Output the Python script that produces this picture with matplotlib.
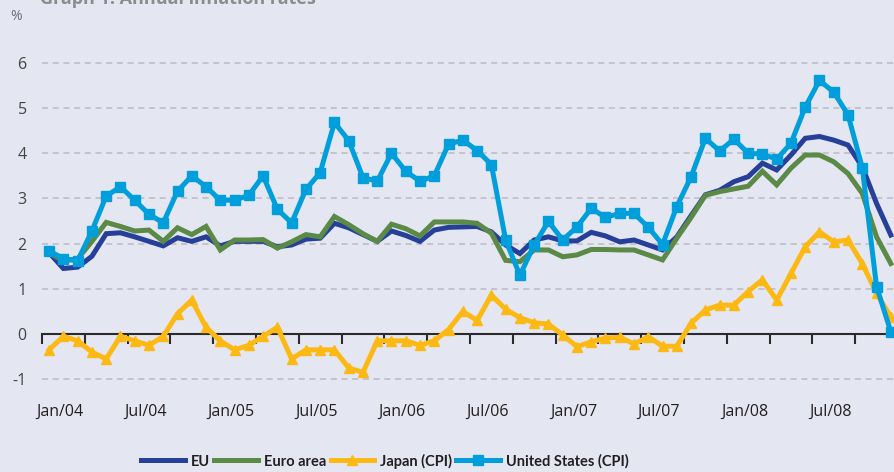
import numpy as np
import matplotlib
matplotlib.use("Agg")
import matplotlib.pyplot as plt
from matplotlib.lines import Line2D

# monthly annual inflation rates, Jan 2004 .. Dec 2008 (%)
eu = [1.80, 1.45, 1.48, 1.72, 2.22, 2.24, 2.15, 2.05, 1.95, 2.13, 2.05, 2.15,
      1.95, 2.05, 2.05, 2.05, 1.93, 1.97, 2.10, 2.12, 2.45, 2.35, 2.20, 2.05,
      2.28, 2.18, 2.05, 2.30, 2.36, 2.37, 2.38, 2.26, 1.97, 1.78, 2.08, 2.15,
      2.06, 2.06, 2.25, 2.17, 2.04, 2.08, 1.97, 1.86, 2.15, 2.62, 3.08, 3.18,
      3.37, 3.48, 3.78, 3.63, 3.96, 4.33, 4.37, 4.29, 4.18, 3.70, 2.89, 2.19]
euro_area = [1.80, 1.62, 1.66, 2.05, 2.47, 2.38, 2.28, 2.30, 2.05, 2.35, 2.20, 2.38,
             1.86, 2.08, 2.08, 2.09, 1.90, 2.04, 2.20, 2.15, 2.60, 2.42, 2.22, 2.05,
             2.43, 2.33, 2.17, 2.48, 2.48, 2.48, 2.45, 2.23, 1.63, 1.60, 1.86, 1.86,
             1.71, 1.75, 1.87, 1.87, 1.86, 1.86, 1.75, 1.64, 2.12, 2.58, 3.07, 3.15,
             3.21, 3.27, 3.60, 3.30, 3.67, 3.96, 3.96, 3.81, 3.55, 3.11, 2.15, 1.56]
japan = [-0.35, -0.05, -0.15, -0.40, -0.55, -0.05, -0.15, -0.25, -0.05, 0.45, 0.75, 0.15,
         -0.15, -0.35, -0.25, -0.05, 0.15, -0.55, -0.35, -0.35, -0.35, -0.75, -0.85, -0.15,
         -0.15, -0.15, -0.25, -0.15, 0.10, 0.50, 0.30, 0.86, 0.55, 0.36, 0.25, 0.22,
         -0.02, -0.28, -0.17, -0.09, -0.07, -0.22, -0.06, -0.27, -0.27, 0.24, 0.53, 0.64,
         0.64, 0.94, 1.20, 0.75, 1.34, 1.93, 2.26, 2.04, 2.08, 1.56, 0.90, 0.38]
us = [1.84, 1.67, 1.62, 2.28, 3.05, 3.26, 2.96, 2.65, 2.46, 3.16, 3.50, 3.26,
      2.96, 2.96, 3.07, 3.50, 2.76, 2.46, 3.20, 3.57, 4.68, 4.28, 3.46, 3.38,
      4.00, 3.60, 3.38, 3.50, 4.20, 4.29, 4.06, 3.75, 2.08, 1.30, 1.97, 2.49,
      2.08, 2.37, 2.78, 2.58, 2.67, 2.67, 2.36, 1.98, 2.82, 3.48, 4.33, 4.05,
      4.31, 4.00, 3.98, 3.87, 4.22, 5.02, 5.61, 5.35, 4.85, 3.68, 1.05, 0.05]

tick_labels = ["Jan/04", "Jul/04", "Jan/05", "Jul/05", "Jan/06",
               "Jul/06", "Jan/07", "Jul/07", "Jan/08", "Jul/08"]
series_names = ["EU", "Euro area", "Japan (CPI)", "United States (CPI)"]

BG = "#e4e6f2"
C_EU = "#26409a"
C_EA = "#5a8a45"
C_JP = "#fdb913"
C_US = "#009fdc"
FONT = ["Open Sans", "DejaVu Sans"]
NARROW = ["Lato", "DejaVu Sans"]

plt.rcParams["font.family"] = FONT

fig = plt.figure(figsize=(8.95, 4.72), dpi=100, facecolor=BG)
ax = fig.add_axes([0.0469, 0.1678, 0.9564, 0.747])
ax.set_facecolor(BG)

x = np.arange(len(us))
lw = 3.6
ax.plot(x, eu, color=C_EU, lw=lw, solid_joinstyle="miter", zorder=3)
ax.plot(x, euro_area, color=C_EA, lw=lw, solid_joinstyle="miter", zorder=4)
ax.plot(x, japan, color=C_JP, lw=lw, marker="^", ms=7, zorder=5)
ax.plot(x, us, color=C_US, lw=lw, marker="s", ms=7, zorder=6)

ax.set_xlim(-0.5, 59.5)
ax.set_ylim(-1.3, 6.5)

# dashed grid, solid zero line with quarter ticks
for v in [-1, 1, 2, 3, 4, 5, 6]:
    ax.axhline(v, color="#b9bac4", lw=1.1, ls=(0, (4, 3)), zorder=1)
for sp in ["top", "right", "left"]:
    ax.spines[sp].set_visible(False)
ax.spines["bottom"].set_position(("data", 0))
ax.spines["bottom"].set_color("#2b2b2b")
ax.spines["bottom"].set_linewidth(1.5)
ax.spines["bottom"].set_zorder(2)
ax.set_xticks(np.arange(-0.5, 59.5, 3))
ax.tick_params(axis="x", direction="out", length=7, width=1.5,
               color="#2b2b2b", labelbottom=False)

ax.set_yticks(range(-1, 7))
ax.set_yticklabels([str(v) for v in range(-1, 7)])
ax.tick_params(axis="y", length=0, pad=11, labelsize=11.5, labelcolor="#444444")

for k, lab in enumerate(tick_labels):
    ax.text(k * 6 + 0.75, -1.73, lab, ha="center", va="center",
            fontsize=11.5, color="#231f20", clip_on=False)

fig.text(10 / 895, 1 - 17 / 472, "%", fontsize=10, color="#6f6f6f",
         ha="left", va="center")
fig.text(40 / 895, 1 - 4 / 472, "Graph 1: Annual inflation rates",
         fontsize=13, fontweight="bold", color="#8c8c8c",
         ha="left", va="baseline")

handles = [
    Line2D([], [], color=C_EU, lw=lw),
    Line2D([], [], color=C_EA, lw=lw),
    Line2D([], [], color=C_JP, lw=lw, marker="^", ms=7),
    Line2D([], [], color=C_US, lw=lw, marker="s", ms=7),
]
leg = fig.legend(handles, series_names, ncol=4, loc="center",
                 bbox_to_anchor=(385 / 895, 1 - 461 / 472), frameon=False,
                 handlelength=3.0, columnspacing=0.3, handletextpad=0.4,
                 prop={"family": NARROW, "weight": "bold", "size": 10.5})
for t in leg.get_texts():
    t.set_color("#231f20")

fig.savefig("out.png", dpi=100, facecolor=BG)
